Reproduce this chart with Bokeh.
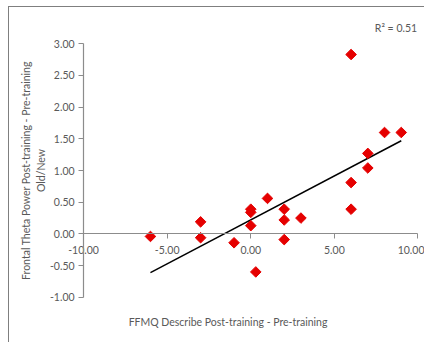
from bokeh.plotting import figure
from bokeh.models import FixedTicker, NumeralTickFormatter, Range1d, Label
from bokeh.embed import file_html
from bokeh.resources import INLINE
import math

# data
x_vals = [6, 8, 9, 7, 7, 6, 6, 1, 0, 0, 0, 2, 2, 3, 2, -1, -3, -3, -6, 0.3]
y_vals = [2.83, 1.60, 1.60, 1.27, 1.04, 0.81, 0.39, 0.56, 0.39, 0.34, 0.13,
          0.39, 0.22, 0.25, -0.09, -0.14, 0.19, -0.06, -0.04, -0.60]
trend_x = [-6, 9]
trend_y = [-0.61, 1.47]
x_ticks = [-10, -5, 0, 5, 10]
y_ticks = [-1, -0.5, 0, 0.5, 1, 1.5, 2, 2.5, 3]
x_bounds = (-10, 10)
y_bounds = (-1, 3)
r2_text = "R\u00b2 = 0.51"
x_title = "FFMQ Describe Post-training - Pre-training"
y_title = "Frontal Theta Power Post-training - Pre-training\nOld/New"

FONT = "Lato"
TXT = "#595959"
AX = "#8c8c8c"
FS = "10.5px"

# the plotting frame fills the whole canvas; axes sit at fixed data positions
p = figure(width=416, height=336, output_backend="svg", toolbar_location=None,
           title=None,
           x_range=Range1d(-14.43, 10.45), y_range=Range1d(-1.729, 3.572),
           min_border_left=0, min_border_right=0, min_border_top=0,
           min_border_bottom=0)
p.styles = {"border-top": "1.5px solid #7f7f7f",
            "border-left": "1.5px solid #7f7f7f",
            "margin-left": "8px", "margin-top": "6px"}
p.grid.visible = False
p.outline_line_color = None

for ax in (p.xaxis[0], p.yaxis[0]):
    ax.axis_line_color = AX
    ax.axis_line_width = 1.2
    ax.major_tick_line_color = AX
    ax.major_tick_in = 0
    ax.major_tick_out = 5
    ax.minor_tick_line_color = None
    ax.major_label_text_font = FONT
    ax.major_label_text_font_size = FS
    ax.major_label_text_color = TXT
    ax.formatter = NumeralTickFormatter(format="0.00")

p.xaxis.ticker = FixedTicker(ticks=x_ticks)
p.yaxis.ticker = FixedTicker(ticks=y_ticks)
p.xaxis.fixed_location = 0
p.yaxis.fixed_location = x_bounds[0]
p.xaxis.bounds = x_bounds
p.yaxis.bounds = y_bounds
p.xaxis.major_label_standoff = 7
p.yaxis.major_label_standoff = 4

p.yaxis.axis_label = y_title
p.yaxis.axis_label_text_font = FONT
p.yaxis.axis_label_text_font_style = "normal"
p.yaxis.axis_label_text_font_size = FS
p.yaxis.axis_label_text_color = TXT
p.yaxis.axis_label_standoff = 0

p.add_layout(Label(x=-1.36, y=-1.39, text=x_title, text_align="center",
                   text_baseline="middle", text_font=FONT, text_font_size=FS,
                   text_color=TXT))
p.add_layout(Label(x=9.95, y=3.25, text=r2_text, text_align="right",
                   text_baseline="middle", text_font=FONT, text_font_size=FS,
                   text_color=TXT))

p.line(trend_x, trend_y, line_color="black", line_width=1.5)
p.scatter(x_vals, y_vals, marker="square", size=7.5, angle=math.pi / 4,
          fill_color="#E50000", line_color="#E50000")

open("out.html", "w").write(file_html(p, INLINE))
